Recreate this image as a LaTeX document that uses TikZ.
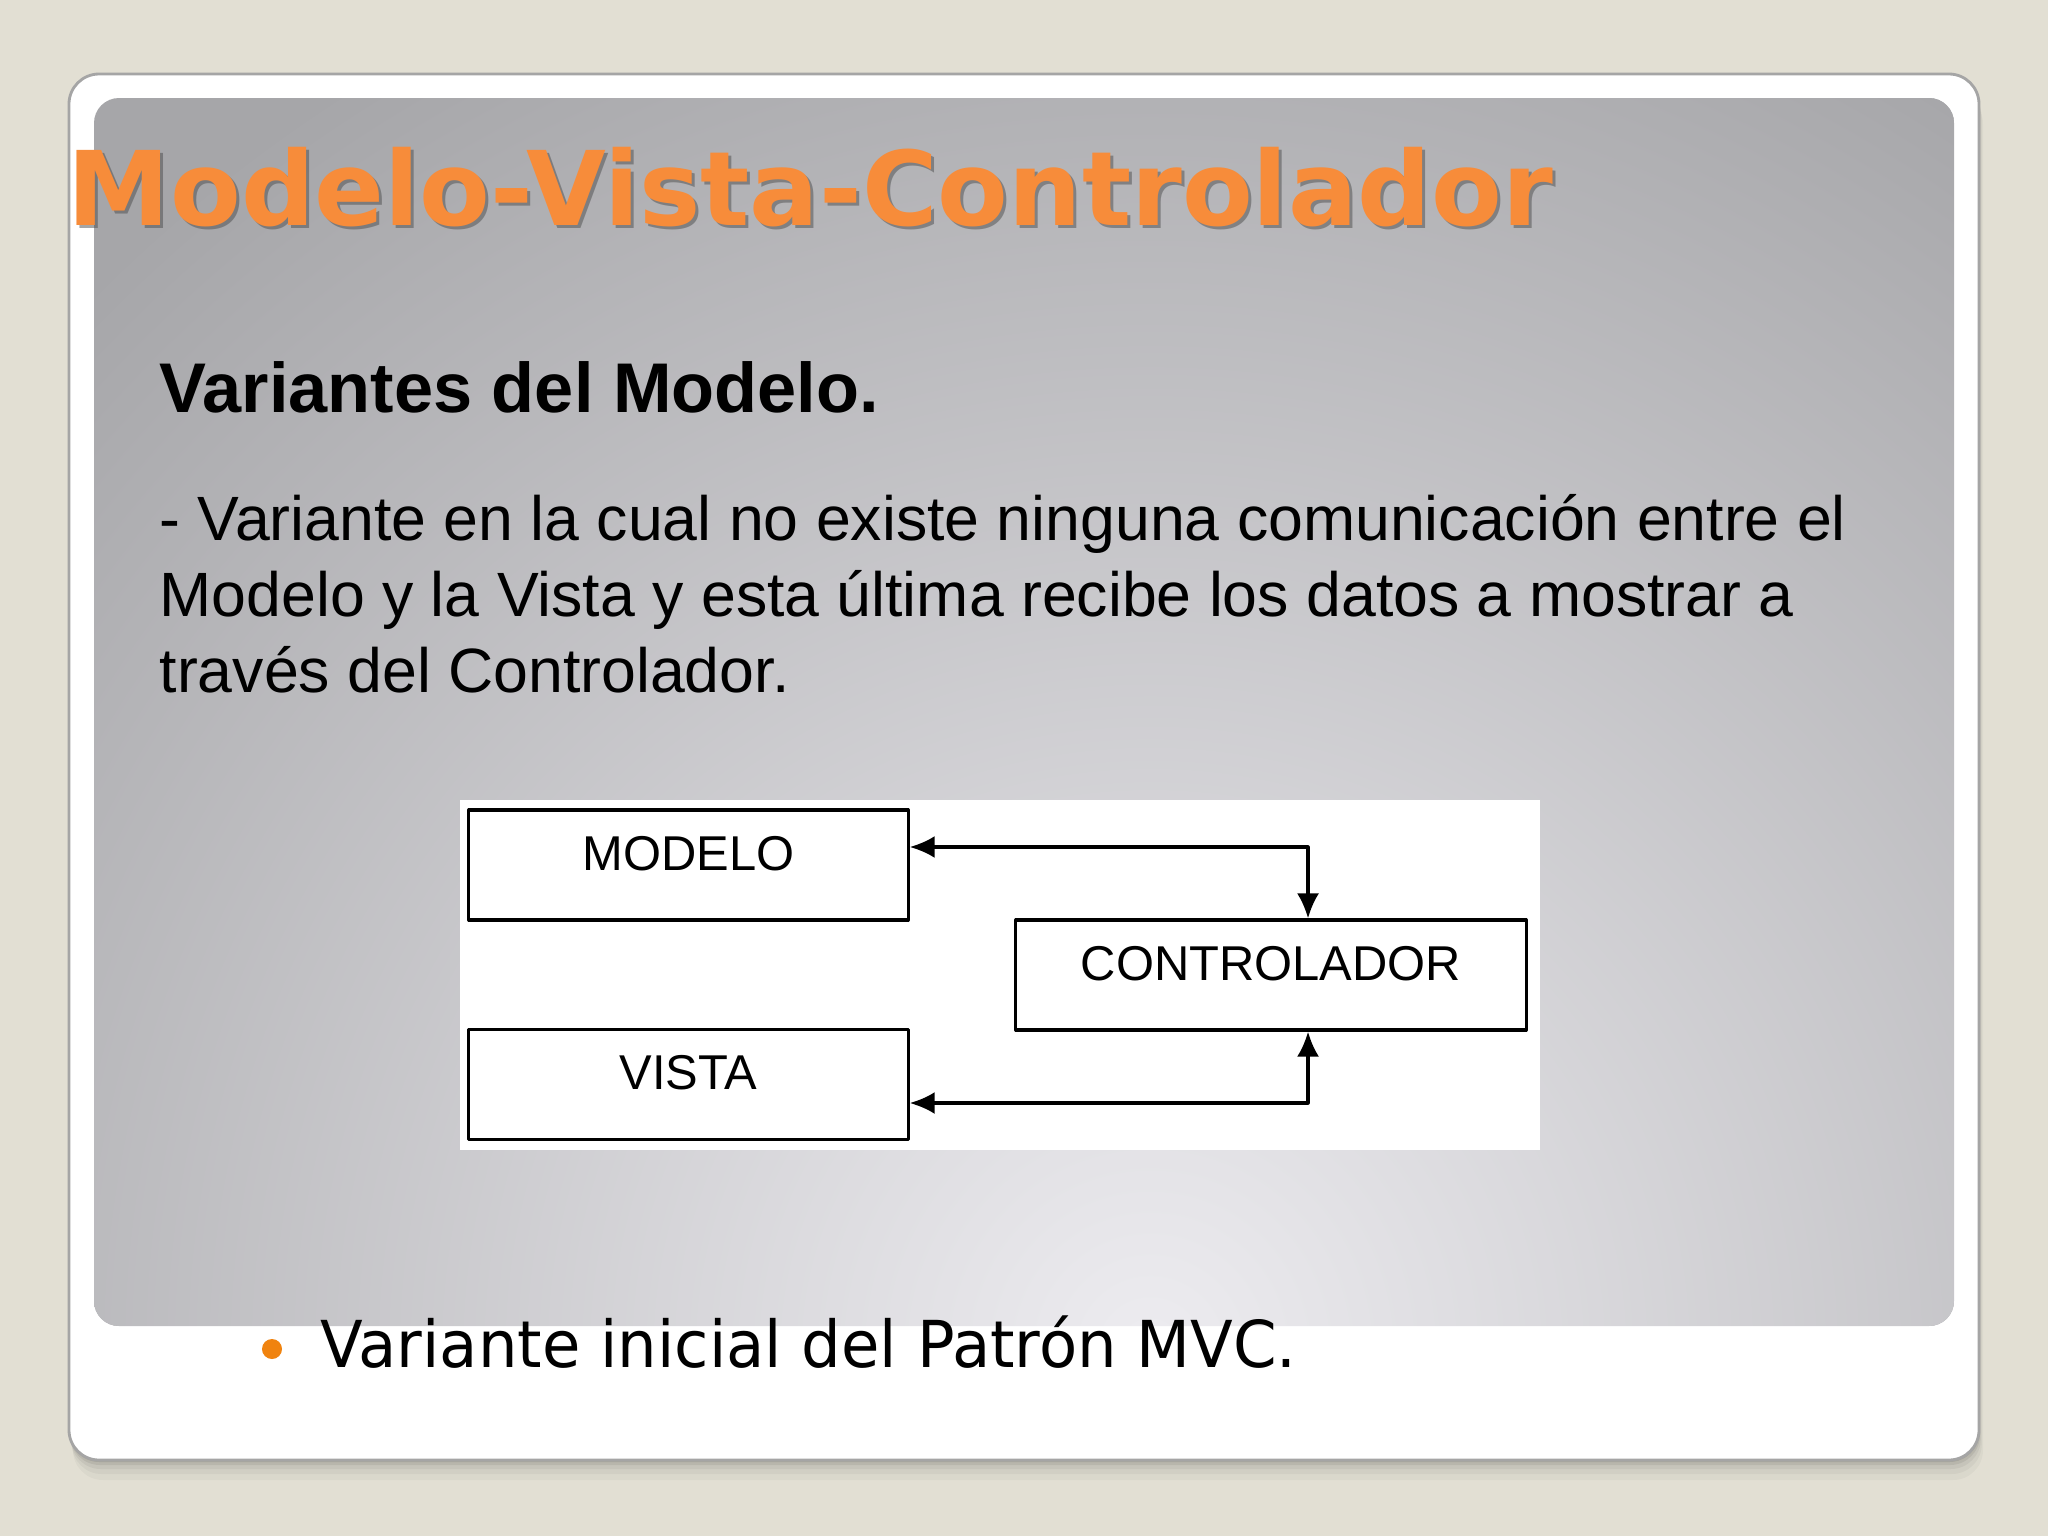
\documentclass[tikz,border=0pt]{standalone}
\usepackage{fontspec}
\setmainfont{Liberation Sans}
\newfontfamily\titelfont{DejaVu Sans}
\usetikzlibrary{arrows.meta}

\definecolor{hintergrund}{RGB}{226,223,211}
\definecolor{titelorange}{RGB}{247,140,58}
\definecolor{punktorange}{RGB}{240,131,15}
\definecolor{paneldunkel}{RGB}{166,166,169}
\definecolor{panelhell}{RGB}{237,236,240}
\definecolor{rahmen}{RGB}{165,165,165}

\tikzset{
  kasten/.style={draw, line width=0.9pt, fill=white, minimum width=4.39cm,
    minimum height=1.1cm, inner sep=0pt, text height=0.35cm, text depth=0.25cm,
    font=\fontsize{13.9}{16}\selectfont},
  pfeil/.style={<->, line width=0.9pt}
}

\begin{document}
\begin{tikzpicture}[x=0.01cm,y=-0.01cm,line join=round,>={Latex[length=2.5mm,width=2.2mm]}]
	\useasboundingbox (0,0) rectangle (2048,1536);
	% Hintergrund
	\fill [hintergrund] (0,0) rectangle (2048,1536);
	% Schatten der Karte
	\foreach \d/\o in {20/0.03,14/0.04,9/0.05,5/0.07,2/0.09}
		\fill [black, opacity = \o, rounded corners = 0.3cm] (69+\d*0.2,74+\d) rectangle (1979+\d*0.2,1460+\d);
	% Karte
	\filldraw [fill = white, draw = rahmen, line width = 0.8pt, rounded corners = 0.3cm] (69,74) rectangle (1979,1460);
	% Verlauf
	\begin{scope}
		\clip [rounded corners = 0.25cm] (94,98) rectangle (1954,1326);
		\fill [paneldunkel] (94,98) rectangle (1954,1326);
		\shade [inner color = panelhell, outer color = paneldunkel] (1150,1350) ellipse (15cm and 15cm);
	\end{scope}
	% Titel
	\node [anchor = base west, inner sep = 0pt, text = black!70, opacity = 0.5,
		font = \titelfont\bfseries\fontsize{29.3}{32}\selectfont] (titelschatten) at (70,228) {Modelo-Vista-Controlador};
	\node [anchor = base west, inner sep = 0pt, text = titelorange,
		font = \titelfont\bfseries\fontsize{29.3}{32}\selectfont] (titel) at (67,225) {Modelo-Vista-Controlador};
	% Text
	\node [anchor = base west, inner sep = 0pt, font = \bfseries\fontsize{20}{24}\selectfont] (untertitel) at (159,412) {Variantes del Modelo.};
	\node [anchor = base west, inner sep = 0pt, align = left, font = \fontsize{17.8}{21.6}\selectfont] (absatz) at (159,692)
		{- Variante en la cual no existe ninguna comunicación entre el\\
		 Modelo y la Vista y esta última recibe los datos a mostrar a\\
		 través del Controlador.};
	% Diagramm
	\fill [white] (460,800) rectangle (1540,1150);
	\node [kasten] (modelo) at (688.5,865) {MODELO};
	\node [kasten, minimum width = 5.1cm] (controlador) at (1271,975) {CONTROLADOR};
	\node [kasten] (vista) at (688.5,1084.5) {VISTA};
	\draw [pfeil] ([yshift = 0.18cm] modelo.east) -| ([xshift = 0.37cm] controlador.north);
	\draw [pfeil] ([yshift = -0.185cm] vista.east) -| ([xshift = 0.37cm] controlador.south);
	% Aufzaehlung
	\fill [punktorange] (272,1349) circle (0.1cm);
	\node [anchor = base west, inner sep = 0pt, font = \titelfont\fontsize{18.4}{22}\selectfont] (punkt) at (320,1367)
		{\scalebox{0.965}[1]{Variante inicial del Patrón MVC.}};
\end{tikzpicture}
\end{document}
